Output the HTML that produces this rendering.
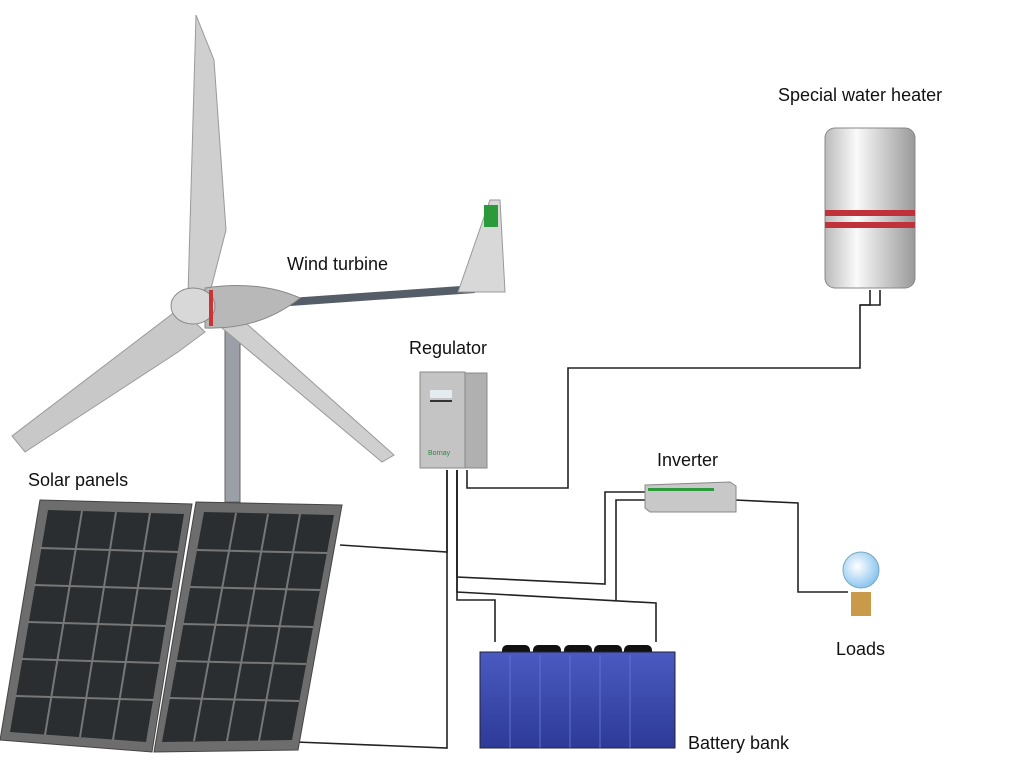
<!DOCTYPE html>
<html><head><meta charset="utf-8"><style>html,body{margin:0;padding:0;background:#fff}svg{display:block}text{font-family:"Liberation Sans",sans-serif;font-size:18px;fill:#111}</style></head><body>
<svg width="1024" height="768" viewBox="0 0 1024 768" xmlns="http://www.w3.org/2000/svg">
<defs>
<linearGradient id="cyl" x1="0" x2="1"><stop offset="0" stop-color="#bbb"/><stop offset="0.35" stop-color="#fafafa"/><stop offset="1" stop-color="#999"/></linearGradient>
<linearGradient id="bat" x1="0" y1="0" x2="0" y2="1"><stop offset="0" stop-color="#4a5ac0"/><stop offset="1" stop-color="#2d3a98"/></linearGradient>
<radialGradient id="bulb" cx="0.4" cy="0.4" r="0.6"><stop offset="0" stop-color="#fff"/><stop offset="1" stop-color="#8ec6f0"/></radialGradient>
</defs>
<g fill="none" stroke="#222" stroke-width="1.6">
<path d="M467 470 V488 H568 V368 H860 V305 H870 V290"/>
<path d="M860 305 H880 V290"/>
<path d="M340 545 L447 552 V470"/>
<path d="M296 742 L447 748 V470"/>
<path d="M457 470 V577 L605 584 V492 H647"/>
<path d="M457 470 V592 L656 603 V642"/>
<path d="M457 470 V600 L495 600 V642"/>
<path d="M616 600 V500 H647"/>
<path d="M735 500 L798 503 V592 H848"/>
</g>
<rect x="225" y="320" width="15" height="182" fill="#9aa0a6" stroke="#666"/>
<path d="M188 295 L196 15 L214 60 L226 230 L208 300 Z" fill="#cfcfcf" stroke="#999"/>
<path d="M180 308 L12 436 L25 452 L178 352 L205 332 Z" fill="#c8c8c8" stroke="#999"/>
<path d="M210 318 L382 462 L394 455 L265 340 L220 300 Z" fill="#cfcfcf" stroke="#999"/>
<path d="M290 298 L475 285 L475 293 L290 306 Z" fill="#555d68"/>
<path d="M458 292 L490 200 L500 200 L505 292 Z" fill="#d8d8d8" stroke="#999"/>
<rect x="484" y="205" width="14" height="22" fill="#2a9a3a"/>
<path d="M205 288 Q260 280 300 298 Q260 330 205 328 Z" fill="#b8b8b8" stroke="#888"/>
<ellipse cx="193" cy="306" rx="22" ry="18" fill="#d8d8d8" stroke="#888"/>
<rect x="209" y="290" width="4" height="36" fill="#c33"/>
<path d="M40 500 L192 504 L152 752 L0 740 Z" fill="#6d6d6d" stroke="#444"/>
<path d="M48 510 L184 514 L146 742 L10 732 Z" fill="#2a2e30"/>
<path d="M196 502 L342 505 L298 750 L154 752 Z" fill="#6d6d6d" stroke="#444"/>
<path d="M204 512 L334 515 L292 740 L162 742 Z" fill="#2a2e30"/>
<g stroke="#777" stroke-width="2">
<path d="M82 511 L45 735 M116 512 L80 737 M150 513 L113 740"/>
<path d="M40 548 L178 552 M34 585 L172 589 M28 622 L166 626 M22 659 L160 663 M16 696 L154 700"/>
<path d="M236 513 L194 741 M268 514 L227 741 M300 514 L259 741"/>
<path d="M197 550 L327 553 M190 587 L320 590 M183 624 L313 627 M176 661 L306 664 M169 698 L299 701"/>
</g>
<rect x="420" y="372" width="45" height="96" fill="#c4c4c4" stroke="#888"/>
<rect x="465" y="373" width="22" height="95" fill="#b0b0b0" stroke="#888"/>
<rect x="430" y="390" width="22" height="8" fill="#e4ecf0"/>
<rect x="430" y="400" width="22" height="2" fill="#333"/>
<text x="428" y="455" style="font-size:7px;fill:#2a8a3a">Bornay</text>
<path d="M645 485 L730 482 L736 486 L736 512 L650 512 L645 508 Z" fill="#c8c8c8" stroke="#888"/>
<rect x="648" y="488" width="66" height="3" fill="#2a9a3a"/>
<rect x="825" y="128" width="90" height="160" rx="10" fill="url(#cyl)" stroke="#888"/>
<rect x="825" y="210" width="90" height="6" fill="#c0323a"/>
<rect x="825" y="222" width="90" height="6" fill="#c0323a"/>
<g fill="#111"><rect x="502" y="645" width="28" height="12" rx="5"/><rect x="533" y="645" width="28" height="12" rx="5"/><rect x="564" y="645" width="28" height="12" rx="5"/><rect x="594" y="645" width="28" height="12" rx="5"/><rect x="624" y="645" width="28" height="12" rx="5"/></g>
<rect x="480" y="652" width="195" height="96" fill="url(#bat)" stroke="#223"/>
<g stroke="#6070d0"><path d="M510 655V748M540 655V748M570 655V748M600 655V748M630 655V748"/></g>
<circle cx="861" cy="570" r="18" fill="url(#bulb)" stroke="#7ab"/>
<rect x="851" y="592" width="20" height="24" fill="#c89a4a"/>
<text x="778" y="101">Special water heater</text>
<text x="287" y="270">Wind turbine</text>
<text x="409" y="354">Regulator</text>
<text x="657" y="466">Inverter</text>
<text x="28" y="486">Solar panels</text>
<text x="836" y="655">Loads</text>
<text x="688" y="749">Battery bank</text>
</svg>
</body></html>
